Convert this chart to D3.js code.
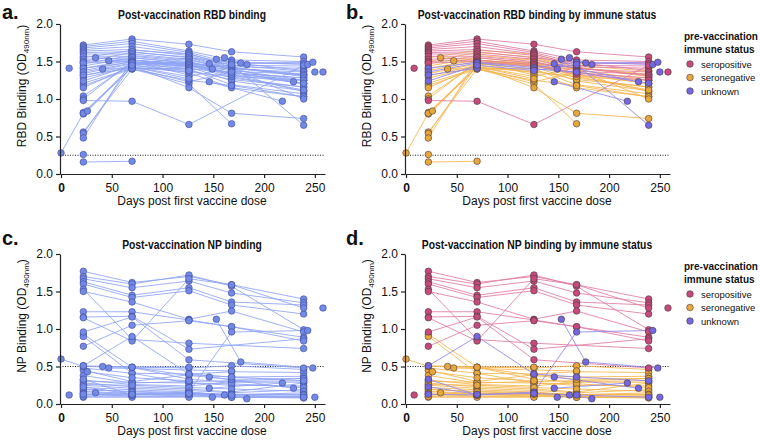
<!DOCTYPE html>
<html><head><meta charset="utf-8">
<script src="https://cdn.jsdelivr.net/npm/d3@7"></script>
<style>
body{margin:0;background:#fff;}
svg{display:block;font-family:"Liberation Sans",Arial,Helvetica,sans-serif;}
</style></head>
<body><svg id="chart" width="760" height="440"></svg>
<script>
// ---------------- DATA ----------------
const statusNames = ["seropositive","seronegative","unknown"];
const xTicks = [0,50,100,150,200,250];
const yTicks = [0,0.5,1,1.5,2];
const rbdCutoff = 0.25;
const npCutoff = 0.5;
const panelTitles = ["Post-vaccination RBD binding","Post-vaccination RBD binding by immune status","Post-vaccination NP binding","Post-vaccination NP binding by immune status"];
const panelLetters = ["a.","b.","c.","d."];

// subject status: P = seropositive, N = seronegative, U = unknown
const subjectStatus = [
 "P","P","P","P","P","P","P","P","P","P","P","P","P","P",
 "N","N","N","N","N","N","N","N","N","N","N","N","N","N","N","N","N","N","N","N","N","N","N","N","N","N",
 "U","U","U","U","U","U","U","U","U"
];
const sampleDays = [
 [22,70,126,168,239],[22,70,126,168,239],[22,70,126,168,239],[22,70,126,168,239],[22,70,126,168,239],
 [22,70,126,239],[22,70,126,168,239],[22,70,126,168,239],[22,70,126,239],[22,70,126,168,239],
 [22,70,126,239],[22,70,126,168,239],[8],[258],
 [22,70,126,168,239],[22,70,126,168,239],[22,70,126,168,239],[22,70,126,168,239],[22,70,126,168,239],
 [22,70,126,168,239],[22,70,126,168,239],[22,70,126,168,239],[22,70,126,168,239],[22,70,126,168,239],
 [22,70,126,168],[22,70,126,168,239],[22,70,126,168,239],[22,70,126],[22,70,126,168,239],
 [22,70,126,168,239],[22,70,126,168,239],[22,70,126,168,239],[22,70,126,168,239],[22,70],
 [22],[0,22,70,126,168,239],[26,70,126],[34,126,239],[41,126],[47,168],[146,218],[250],
 [22,70,126,168,243],[22,70,126,168,239],[22,70],[22,70,126,168,239],[146,229],[149,161,183],[153,177,248],[162,183,235],[254]
];
const rbdValues = [
 [1.72,1.80,1.73,1.63,1.56],[1.70,1.77,1.64,1.52,1.50],[1.68,1.74,1.62,1.48,1.47],[1.66,1.70,1.60,1.45,1.44],[1.64,1.66,1.58,1.43,1.41],
 [1.62,1.63,1.55,1.38],[1.60,1.60,1.53,1.40,1.36],[1.57,1.57,1.50,1.37,1.33],[1.53,1.55,1.48,1.31],[1.50,1.52,1.46,1.35,1.28],
 [0.98,0.97,0.66,1.45],[1.48,1.50,1.44,1.33,1.25],[1.41],[1.36],
 [1.55,1.65,1.60,1.45,1.37],[1.50,1.62,1.56,1.42,1.32],[1.47,1.58,1.52,1.39,1.25],[1.44,1.55,1.48,1.32,1.21],[1.41,1.52,1.45,1.28,1.16],
 [1.38,1.50,1.43,1.24,1.11],[1.34,1.47,1.40,1.19,1.07],[1.31,1.45,1.35,1.15,1.03],[1.28,1.43,1.30,1.42,1.30],[1.21,1.41,1.23,1.36,1.20],
 [1.18,1.40,1.20,0.67],[1.15,1.44,1.15,0.81,0.74],[1.04,1.48,1.47,1.30,1.25],[1.00,1.50,1.32],[0.82,1.42,1.38,1.26,1.16],
 [0.80,1.45,1.50,1.33,1.10],[0.56,1.40,1.25,1.18,1.03],[0.54,1.46,1.55,1.40,1.00],[0.48,1.52,1.45,1.35,1.28],[0.16,0.17],
 [0.26],[0.28,0.81,1.42,1.36,1.30,1.12],[0.84,1.43,1.27],[1.55,1.47,1.33],[1.40,1.41],[1.51,1.40],[1.23,0.97],[1.36],
 [1.41,1.49,1.42,1.49,1.46],[1.36,1.48,1.40,1.36,1.21],[1.32,1.41],[1.24,1.45,1.38,1.46,0.65],[1.47,1.23],[1.40,1.55,1.46],[1.53,1.48,1.49],[1.36,1.48,1.50],[1.35]
];
const npValues = [
 [1.77,1.62,1.70,1.59,1.40],[1.70,1.60,1.72,1.57,0.99],[1.67,1.55,1.64,1.48,1.35],[1.63,1.45,1.55,1.36,1.32],[1.60,1.42,1.51,1.32,1.20],
 [1.53,0.86,0.81,0.74],[1.50,1.36,1.13,1.24,0.96],[1.23,1.23,1.12,1.03,0.89],[1.16,1.17,0.73,0.87],[1.15,0.84,1.67,1.59,1.28],
 [0.96,1.16,0.59,0.48],[0.77,1.05,1.11,1.03,0.84],[0.12],[1.28],
 [0.51,0.49,0.48,0.51,0.46],[0.48,0.41,0.40,0.43,0.42],[0.45,0.30,0.39,0.36,0.37],[0.38,0.28,0.30,0.31,0.34],[0.32,0.26,0.24,0.30,0.31],
 [0.28,0.23,0.20,0.16,0.28],[0.25,0.21,0.18,0.15,0.19],[0.22,0.19,0.16,0.12,0.15],[0.19,0.17,0.15,0.12,0.12],[0.17,0.14,0.13,0.10,0.10],
 [0.15,0.13,0.12,0.10],[0.13,0.12,0.11,0.09,0.09],[0.11,0.10,0.10,0.09,0.08],[0.09,0.09,0.09],[0.93,0.49,0.33,0.29,0.29],
 [0.90,0.41,0.28,0.25,0.24],[0.30,0.29,0.28,0.27,0.22],[0.26,0.25,0.22,0.20,0.17],[0.20,0.16,0.14,0.13,0.13],[0.10,0.12],
 [0.14],[0.60,0.50,0.49,0.38,0.33,0.34],[0.43,0.35,0.31],[0.15,0.13,0.12],[0.50,0.49],[0.48,0.44],[0.21,0.28],[0.09],
 [0.13,0.12,0.16,0.96,0.98],[0.51,0.90,0.40,0.36,0.31],[0.33,0.12],[0.23,0.13,0.14,0.12,0.09],[0.36,0.21],[0.09,0.12,0.07],[1.13,0.56,0.48],[0.40,0.40,0.21],[0.09]
];

// ---------------- STYLE ----------------
const fillColor = {P:"#c64b7d", N:"#e7a73c", U:"#7368e2"};
const lineColor = {P:"#e07ba3", N:"#f4b54c", U:"#8f86ee"};
const blueFill = "#7389e6", blueLine = "#8ea3f4";
const statusCode = {seropositive:"P", seronegative:"N", unknown:"U"};

const svg = d3.select("#chart");

function squeeze(sel, factor){
  sel.each(function(){
    const w = this.getComputedTextLength();
    d3.select(this).attr("textLength", w*factor).attr("lengthAdjust","spacingAndGlyphs");
  });
}

const panels = [
 {x0:60, y0:174, key:"rbd", colored:false, letterX:2, letterY:19, yLab:"RBD Binding (OD", cutoff:rbdCutoff},
 {x0:405, y0:174, key:"rbd", colored:true, letterX:346, letterY:19, yLab:"RBD Binding (OD", cutoff:rbdCutoff},
 {x0:60, y0:404, key:"np", colored:false, letterX:2, letterY:245, yLab:"NP Binding (OD", cutoff:npCutoff},
 {x0:405, y0:404, key:"np", colored:true, letterX:346, letterY:245, yLab:"NP Binding (OD", cutoff:npCutoff}
];

panels.forEach((p,i)=>{
  const x = d3.scaleLinear().domain([-1,260]).range([p.x0, p.x0+265]);
  const y = d3.scaleLinear().domain([0,2]).range([p.y0, p.y0-150]);
  const g = svg.append("g");
  const vals = p.key==="rbd" ? rbdValues : npValues;

  g.append("line").attr("x1",x(-1)).attr("x2",x(260)).attr("y1",y(p.cutoff)).attr("y2",y(p.cutoff))
    .attr("stroke","#222").attr("stroke-width",1).attr("stroke-dasharray","1,1.5");

  const order = [];
  ["N","P","U"].forEach(s=>subjectStatus.forEach((st,k)=>{ if(st===s) order.push(k); }));

  const line = d3.line().x(d=>x(d[0])).y(d=>y(d[1]));
  order.forEach(k=>{
    const pts = sampleDays[k].map((d,j)=>[d, vals[k][j]]);
    if(pts.length>1){
      g.append("path").attr("d",line(pts)).attr("fill","none")
        .attr("stroke", p.colored ? lineColor[subjectStatus[k]] : blueLine)
        .attr("stroke-width",0.9).attr("stroke-opacity",0.95);
    }
  });
  order.forEach(k=>{
    sampleDays[k].forEach((d,j)=>{
      g.append("circle").attr("cx",x(d)).attr("cy",y(vals[k][j])).attr("r",3.3)
        .attr("fill", p.colored ? fillColor[subjectStatus[k]] : blueFill)
        .attr("stroke", p.colored ? "#4a3a3a" : "#3c4a9a").attr("stroke-width",0.6);
    });
  });

  const ya = g.append("g").attr("transform",`translate(${p.x0},0)`)
    .call(d3.axisLeft(y).tickValues(yTicks).tickFormat(d3.format(".1f")).tickSize(4).tickSizeOuter(0));
  const xa = g.append("g").attr("transform",`translate(0,${p.y0})`)
    .call(d3.axisBottom(x).tickValues(xTicks).tickFormat(d3.format("d")).tickSize(4).tickSizeOuter(0));
  [ya,xa].forEach(a=>{
    a.selectAll("path,line").attr("stroke","#222").attr("stroke-width",1.2);
    a.selectAll("text").attr("font-size",12).attr("fill","#111").attr("font-family","Liberation Sans, Arial, sans-serif");
  });
  xa.selectAll("text").attr("dy","0.9em");
  xa.selectAll("text").filter(d=>d===0).attr("font-weight","bold");

  g.append("text").attr("x",p.x0+132).attr("y",p.y0+31).attr("text-anchor","middle")
    .attr("font-size",12).attr("fill","#111").text("Days post first vaccine dose");
  const yt = g.append("text").attr("transform",`translate(${p.x0-34},${p.y0-88}) rotate(-90)`)
    .attr("text-anchor","middle").attr("font-size",12).attr("fill","#111");
  yt.append("tspan").text(p.yLab);
  yt.append("tspan").attr("font-size",8).attr("dy",3).text("490nm");
  yt.append("tspan").attr("dy",-3).text(")");

  const tt = g.append("text").attr("x",p.x0+132).attr("y",p.y0-155).attr("text-anchor","middle")
    .attr("font-size",12).attr("font-weight","bold").attr("fill","#111").text(panelTitles[i]);
  squeeze(tt, 0.86);
  g.append("text").attr("x",p.letterX).attr("y",p.letterY).attr("font-size",20).attr("font-weight","bold")
    .attr("fill","#111").text(panelLetters[i]);

  if(p.colored){
    const lg = svg.append("g").attr("transform",`translate(684,${p.y0-134})`);
    lg.append("text").attr("x",0).attr("y",0).attr("font-size",10).attr("font-weight","bold").attr("fill","#111").text("pre-vaccination");
    lg.append("text").attr("x",0).attr("y",13).attr("font-size",10).attr("font-weight","bold").attr("fill","#111").text("immune status");
    statusNames.forEach((s,j)=>{
      lg.append("circle").attr("cx",6).attr("cy",24+j*13.5).attr("r",3.3).attr("fill",fillColor[statusCode[s]])
        .attr("stroke","#4a3a3a").attr("stroke-width",0.6);
      lg.append("text").attr("x",17).attr("y",27.5+j*13.5).attr("font-size",9.5).attr("fill","#111").text(s);
    });
  }
});
</script></body></html>
